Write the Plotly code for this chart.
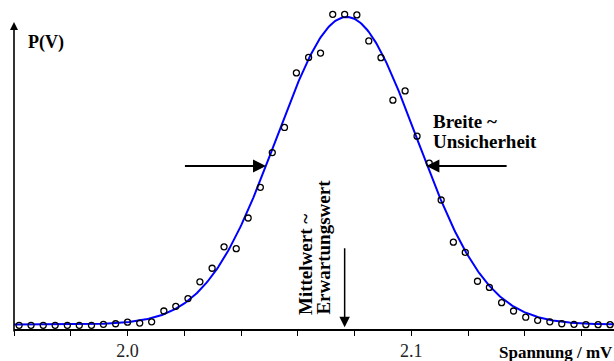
import numpy as np
import plotly.graph_objects as go

# ---- data ----
spannung = [1.9618, 1.9660, 1.9703, 1.9745, 1.9788, 1.9830, 1.9873, 1.9915, 1.9958, 2.0000,
            2.0043, 2.0085, 2.0128, 2.0170, 2.0213, 2.0255, 2.0298, 2.0340, 2.0383, 2.0425,
            2.0468, 2.0510, 2.0553, 2.0595, 2.0638, 2.0680, 2.0723, 2.0765, 2.0808, 2.0850,
            2.0893, 2.0935, 2.0978, 2.1020, 2.1063, 2.1105, 2.1148, 2.1190, 2.1233, 2.1275,
            2.1318, 2.1360, 2.1403, 2.1445, 2.1488, 2.1530, 2.1573, 2.1615, 2.1658, 2.1700]
haeufigkeit = [1.2, 1.2, 1.2, 1.2, 1.2, 1.2, 1.2, 1.5, 1.7, 2.2,
               1.9, 2.3, 5.8, 7.3, 9.8, 15.2, 19.6, 26.5, 25.9, 35.8,
               45.7, 56.9, 65.0, 82.6, 87.6, 89.0, 101.5, 101.5, 101.3, 92.9,
               87.5, 73.8, 76.8, 62.2, 53.5, 41.6, 28.0, 24.7, 15.4, 13.4,
               8.5, 5.8, 3.8, 2.8, 2.3, 1.7, 1.5, 1.4, 1.4, 1.4]

# Gaussian fit parameters
fit_mean = 2.0772
fit_sigma = 0.0247
fit_amp = 99.2
fit_offset = 1.45

tick_vals = [1.96, 1.98, 2.00, 2.02, 2.04, 2.06, 2.08, 2.10, 2.12, 2.14, 2.16]
tick_text = ["", "", "2.0", "", "", "", "", "2.1", "", "", ""]

x_range = [1.96, 2.1714]
y_range = [0, 104.5]

xf = np.linspace(x_range[0], x_range[1], 500)
yf = fit_offset + fit_amp * np.exp(-((xf - fit_mean) ** 2) / (2 * fit_sigma ** 2))

SERIF = "Liberation Serif, Times New Roman, serif"

fig = go.Figure()
fig.add_trace(go.Scatter(x=xf, y=yf, mode="lines",
                         line=dict(color="#0000ff", width=2), hoverinfo="skip"))
fig.add_trace(go.Scatter(x=spannung, y=haeufigkeit, mode="markers",
                         marker=dict(symbol="circle-open", size=6, color="black",
                                     line=dict(width=1.3, color="black"))))

ann = []
# y axis with arrow
ann.append(dict(x=1.96, y=99.0, ax=1.96, ay=-1.3, xref="x", yref="y", axref="x", ayref="y",
                text="", showarrow=True, arrowhead=2, arrowsize=1.0, arrowwidth=1.6,
                arrowcolor="black", standoff=0, startstandoff=0))
# Mittelwert arrow
ann.append(dict(x=2.0765, y=0.6, ax=2.0765, ay=26.5, xref="x", yref="y", axref="x", ayref="y",
                text="", showarrow=True, arrowhead=2, arrowsize=1.4, arrowwidth=1.5,
                arrowcolor="black", standoff=0))
# Breite arrows
ann.append(dict(x=2.0488, y=52.6, ax=2.0197, ay=52.6, xref="x", yref="y", axref="x", ayref="y",
                text="", showarrow=True, arrowhead=2, arrowsize=1.3, arrowwidth=2,
                arrowcolor="black", standoff=0))
ann.append(dict(x=2.1053, y=52.6, ax=2.1341, ay=52.6, xref="x", yref="y", axref="x", ayref="y",
                text="", showarrow=True, arrowhead=2, arrowsize=1.3, arrowwidth=2,
                arrowcolor="black", standoff=0))

def label(text, x, y, size, xanchor="left", yanchor="middle", angle=0, bold=True):
    return dict(text=f"<b>{text}</b>" if bold else text, x=x, y=y, xref="paper", yref="paper",
                xanchor=xanchor, yanchor=yanchor, showarrow=False, textangle=angle,
                borderpad=0, font=dict(family=SERIF, size=size, color="black"))

ann.append(label("P(V)", 0.0217, 0.883, 18))
ann.append(label("Spannung / mV", 1.0, -0.071, 17, xanchor="right"))
ann.append(label("Breite ~", 0.6967, 0.639, 19))
ann.append(label("Unsicherheit", 0.6967, 0.578, 19))
ann.append(label("Mittelwert ~", 0.4858, 0.040, 19, xanchor="center", yanchor="bottom", angle=-90))
ann.append(label("Erwartungswert", 0.5167, 0.040, 19, xanchor="center", yanchor="bottom", angle=-90))

fig.update_layout(
    width=614, height=361,
    margin=dict(l=14, r=0, t=5, b=32),
    paper_bgcolor="white", plot_bgcolor="white",
    showlegend=False,
    annotations=ann,
    xaxis=dict(range=x_range, tickvals=tick_vals, ticktext=tick_text,
               showline=True, linecolor="black", linewidth=1.6,
               ticks="outside", ticklen=5, tickwidth=1.2, tickcolor="black",
               showgrid=False, zeroline=False,
               tickfont=dict(family=SERIF, size=18, color="#222")),
    yaxis=dict(range=y_range, visible=False, showgrid=False, zeroline=False),
)

fig.write_html("out.html",
               config={"displayModeBar": False},
               post_script="document.body.style.margin='0';document.body.style.overflow='hidden';")
